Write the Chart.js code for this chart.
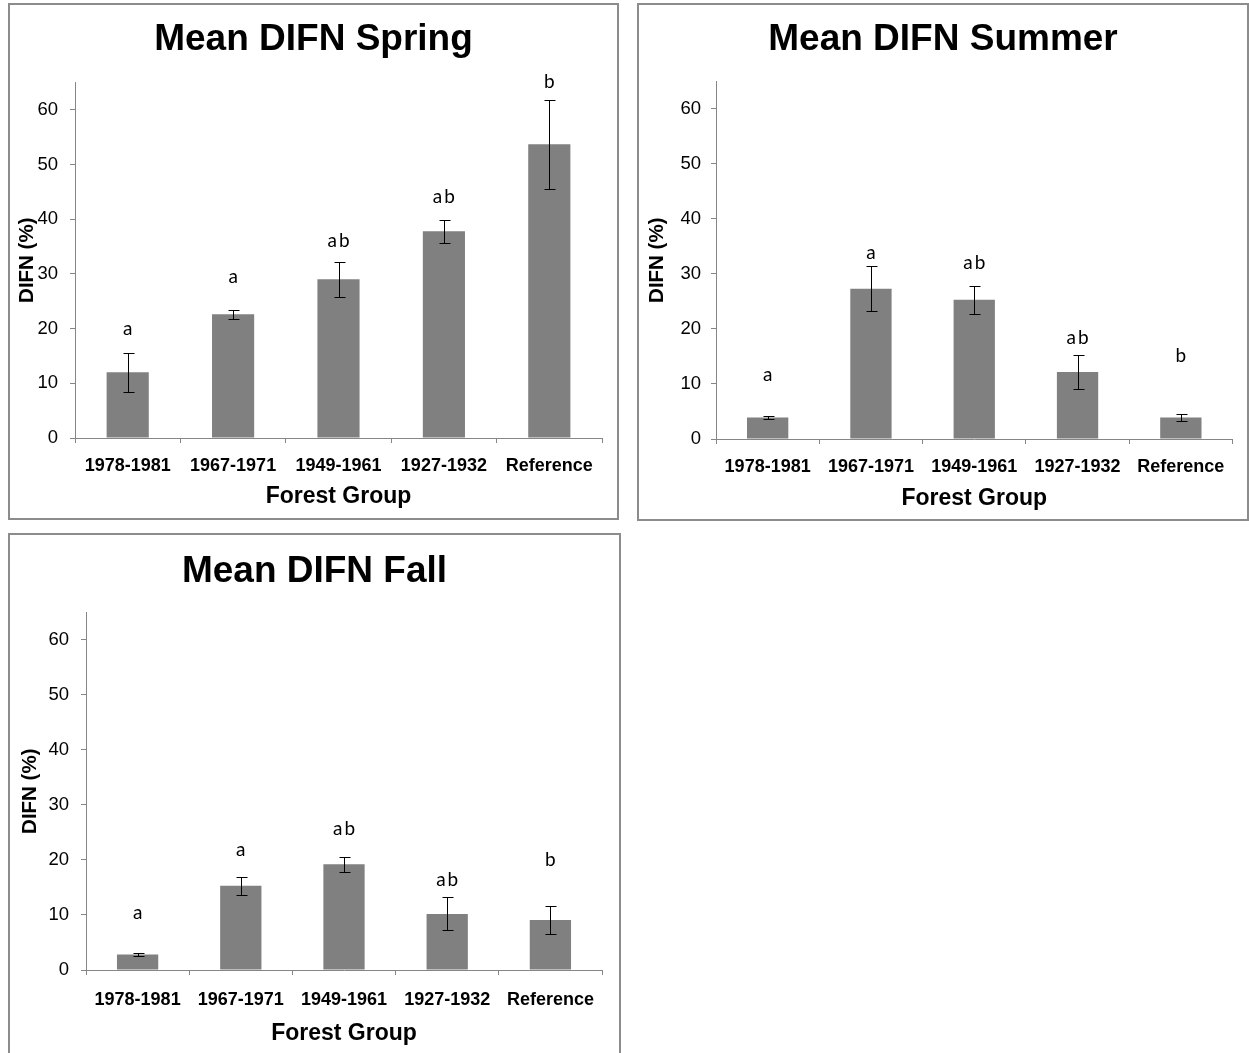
<!DOCTYPE html>
<html>
<head>
<meta charset="utf-8">
<script src="https://cdn.jsdelivr.net/npm/chart.js@4/dist/chart.umd.min.js"></script>
<style>
  html, body { margin: 0; padding: 0; background: #fff; width: 1249px; height: 1053px; overflow: hidden; }
  .panel { position: absolute; border: 2px solid #8c8c8c; background: #fff; }
  .panel canvas { display: block; }
</style>
</head>
<body>
<div class="panel" id="p1" style="left:8px; top:3px; width:607px; height:513px;"><canvas id="c1" width="607" height="513"></canvas></div>
<div class="panel" id="p2" style="left:637px; top:3px; width:608px; height:514px;"><canvas id="c2" width="608" height="514"></canvas></div>
<div class="panel" id="p3" style="left:8px; top:533px; width:609px; height:530px;"><canvas id="c3" width="609" height="518"></canvas></div>
<script>
// ---------- DATA ----------
const categories = ['1978-1981', '1967-1971', '1949-1961', '1927-1932', 'Reference'];
const yTicks = [0, 10, 20, 30, 40, 50, 60];

const springMean = [12.0, 22.6, 29.0, 37.8, 53.7];
const springErr  = [3.6, 0.8, 3.2, 2.1, 8.1];
const springLetters = ['a', 'a', 'ab', 'ab', 'b'];
const springLetterY = [19.9, 29.4, 36.0, 44.0, 65.1];

const summerMean = [3.9, 27.3, 25.3, 12.2, 3.9];
const summerErr  = [0.3, 4.1, 2.5, 3.1, 0.7];
const summerLetters = ['a', 'a', 'ab', 'ab', 'b'];
const summerLetterY = [11.7, 33.9, 32.1, 18.3, 15.2];

const fallMean = [2.8, 15.3, 19.2, 10.2, 9.1];
const fallErr  = [0.3, 1.6, 1.3, 3.0, 2.6];
const fallLetters = ['a', 'a', 'ab', 'ab', 'b'];
const fallLetterY = [10.3, 21.9, 25.7, 16.3, 20.1];

// ---------- STYLE ----------
Chart.defaults.font.family = '"Liberation Sans", Arial, sans-serif';
Chart.defaults.color = '#000';
const AXIS = '#868686';
const BAR = '#808080';

const errorBarPlugin = {
  id: 'errorBars',
  afterDatasetsDraw(chart, args, opts) {
    const ctx = chart.ctx;
    const meta = chart.getDatasetMeta(0);
    const ys = chart.scales.y;
    const ds = chart.data.datasets[0];
    ctx.save();
    ctx.strokeStyle = '#000';
    ctx.lineWidth = 1;
    meta.data.forEach((el, i) => {
      const v = ds.data[i], e = opts.err[i];
      const x = Math.round(el.x) + 0.5;
      const yHi = Math.round(ys.getPixelForValue(v + e)) + 0.5;
      const yLo = Math.round(ys.getPixelForValue(v - e)) + 0.5;
      ctx.beginPath();
      ctx.moveTo(x, yHi); ctx.lineTo(x, yLo);
      ctx.moveTo(x - 5, yHi); ctx.lineTo(x + 6, yHi);
      ctx.moveTo(x - 5, yLo); ctx.lineTo(x + 6, yLo);
      ctx.stroke();
    });
    ctx.restore();
  }
};

const letterPlugin = {
  id: 'letters',
  afterDatasetsDraw(chart, args, opts) {
    const ctx = chart.ctx;
    const meta = chart.getDatasetMeta(0);
    const ys = chart.scales.y;
    ctx.save();
    ctx.fillStyle = '#000';
    ctx.font = '19px Lato, "Open Sans", sans-serif';
    ctx.textAlign = 'center';
    ctx.textBaseline = 'middle';
    try { ctx.letterSpacing = '2px'; } catch (e) {}
    meta.data.forEach((el, i) => {
      ctx.fillText(opts.text[i], el.x + 1, ys.getPixelForValue(opts.y[i]));
    });
    ctx.restore();
  }
};

function makeChart(id, title, mean, err, letters, letterY, L) {
  return new Chart(document.getElementById(id), {
    type: 'bar',
    data: {
      labels: categories,
      datasets: [{ data: mean, backgroundColor: BAR, borderWidth: 0,
                   barPercentage: 0.4, categoryPercentage: 1.0 }]
    },
    options: {
      responsive: false,
      animation: false,
      events: [],
      layout: { padding: 0 },
      plugins: {
        legend: { display: false },
        tooltip: { enabled: false },
        title: {
          display: true, text: title, color: '#000',
          font: { size: 37, weight: 'bold' },
          padding: { top: L.titleTop, bottom: L.titleBottom }
        },
        errorBars: { err: err },
        letters: { text: letters, y: letterY }
      },
      scales: {
        x: {
          grid: { display: true, drawOnChartArea: false, drawTicks: true, tickLength: 5, color: AXIS, offset: true },
          border: { display: true, color: AXIS, width: 1 },
          ticks: { color: '#000', font: { size: 18, weight: 'bold' }, padding: L.xTickPad, maxRotation: 0, autoSkip: false },
          title: { display: true, text: 'Forest Group', color: '#000', font: { size: 23, weight: 'bold' },
                   padding: { top: 0, bottom: L.xTitleBottom } },
          afterFit(s) { s.height = L.xHeight; }
        },
        y: {
          min: 0, max: 65,
          ticks: { stepSize: 10, color: '#000', font: { size: 18.5 }, padding: L.yTickPad },
          afterBuildTicks(s) { s.ticks = s.ticks.filter(t => yTicks.includes(t.value)); },
          grid: { display: true, drawOnChartArea: false, drawTicks: true, tickLength: 5, color: AXIS },
          border: { display: true, color: AXIS, width: 1 },
          title: { display: true, text: 'DIFN (%)', color: '#000', font: { size: 20.5, weight: 'bold' },
                   padding: { top: L.yTitleTop, bottom: 0 } },
          afterFit(s) { s.width = L.yWidth; }
        },
        // empty spacer on the right so the chart title stays centred on the whole panel
        spacer: {
          type: 'linear', position: 'right', display: true,
          grid: { display: false }, border: { display: false }, ticks: { display: false },
          afterFit(s) { s.width = L.right; }
        }
      }
    },
    plugins: [errorBarPlugin, letterPlugin]
  });
}

makeChart('c1', 'Mean DIFN Spring', springMean, springErr, springLetters, springLetterY,
  { right: 15, titleTop: 13, titleBottom: 20, xHeight: 80, xTickPad: 12, xTitleBottom: 8, yWidth: 65, yTickPad: 12, yTitleTop: 5 });
makeChart('c2', 'Mean DIFN Summer', summerMean, summerErr, summerLetters, summerLetterY,
  { right: 14.5, titleTop: 13, titleBottom: 19, xHeight: 80, xTickPad: 12, xTitleBottom: 7, yWidth: 77, yTickPad: 10, yTitleTop: 6 });
makeChart('c3', 'Mean DIFN Fall', fallMean, fallErr, fallLetters, fallLetterY,
  { right: 17, titleTop: 15, titleBottom: 18, xHeight: 83, xTickPad: 14, xTitleBottom: 6, yWidth: 76, yTickPad: 12, yTitleTop: 8 });
</script>
</body>
</html>
